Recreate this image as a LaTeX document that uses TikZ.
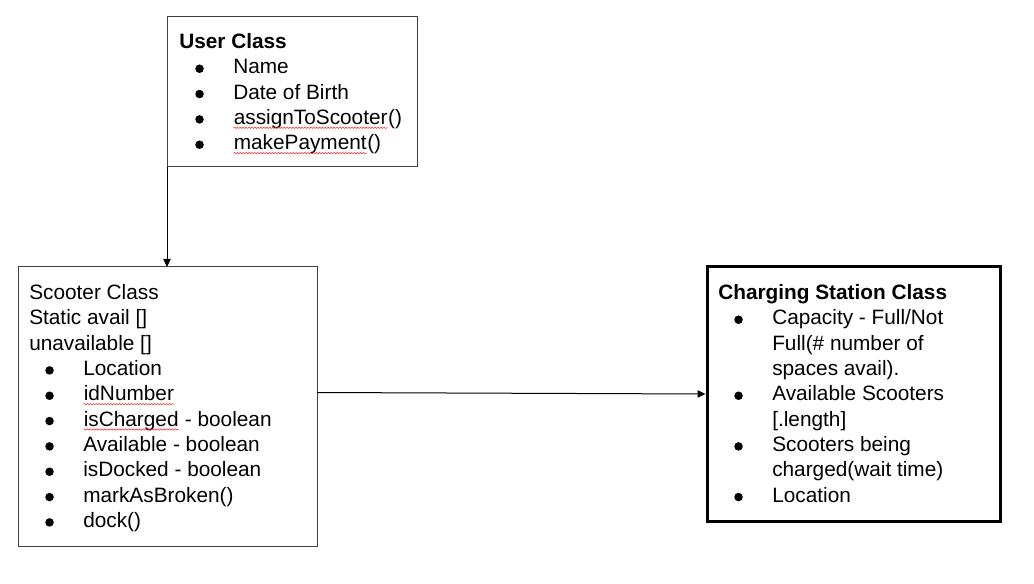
\documentclass[tikz,border=0pt]{standalone}
\usepackage{fontspec}
\setmainfont{Liberation Sans}
\usepackage{tikz}
\usetikzlibrary{calc}
\usetikzlibrary{arrows.meta}
\usetikzlibrary{decorations.pathmorphing}
\tikzstyle{classbox} = [draw=black!75, line width=0.75pt, rectangle, anchor=north west, inner sep=0pt, outer sep=0pt]
\tikzstyle{thickbox} = [draw=black, line width=2.25pt]
\tikzstyle{classtext} = [anchor=north west, inner sep=0pt, align=left, font=\fontsize{15.6}{19}\selectfont]
\tikzstyle{assoc} = [draw=black, line width=0.75pt, -{Triangle[length=6pt,width=5.5pt]}]
\newcommand\bulletdot{\tikz[baseline=-3.7pt]\fill (0,0) circle (3.2pt);}
\newcommand\itm[1]{\makebox[40.5pt][l]{\hspace*{12pt}\bulletdot}#1}
\newcommand\cnt[1]{\hspace*{40.5pt}#1}
\newcommand\spell[1]{\tikz[baseline=(w.base)]{
    \node[inner sep=0pt] (w) {#1};
    \draw[red!85, line width=0.4pt, decorate, decoration={snake, amplitude=0.5pt, segment length=2.2pt}]
        ([yshift=-2.6pt]w.base west) -- ([yshift=-2.6pt]w.base east);
}}

\begin{document}
\begin{tikzpicture}[x=0.75pt, y=-0.75pt]
\useasboundingbox (0,0) rectangle (1034,584);
\node[classbox, minimum width=187.5pt, minimum height=112.5pt] (user) at (167,17) {};
\node[classbox, minimum width=224.25pt, minimum height=209.25pt] (scooter) at (18,267) {};
\node[classbox, thickbox, minimum width=219.75pt, minimum height=190.5pt] (station) at (707,267) {};

\node[classtext] (user_text) at ($(user.north west)+(12,16)$) {\textbf{User Class}\\
    \itm{Name}\\
    \itm{Date of Birth}\\
    \itm{\spell{assignToScooter}()}\\
    \itm{\spell{makePayment}()}};

\node[classtext] (scooter_text) at ($(scooter.north west)+(11,17)$) {Scooter Class\\
    Static avail []\\
    unavailable []\\
    \itm{Location}\\
    \itm{\spell{idNumber}}\\
    \itm{\spell{isCharged} - boolean}\\
    \itm{Available - boolean}\\
    \itm{isDocked - boolean}\\
    \itm{markAsBroken()}\\
    \itm{dock()}};

\node[classtext] (station_text) at ($(station.north west)+(11,17)$) {\textbf{Charging Station Class}\\
    \itm{Capacity - Full/Not}\\
    \cnt{Full(\# number of}\\
    \cnt{spaces avail).}\\
    \itm{Available Scooters}\\
    \cnt{[.length]}\\
    \itm{Scooters being}\\
    \cnt{charged(wait time)}\\
    \itm{Location}};

\draw[assoc] (user.south west) -- (user.south west |- scooter.north);
\draw[assoc, shorten >=1.1pt] ($(scooter.east)+(0,-14)$) -- (station.west);
\end{tikzpicture}
\end{document}
